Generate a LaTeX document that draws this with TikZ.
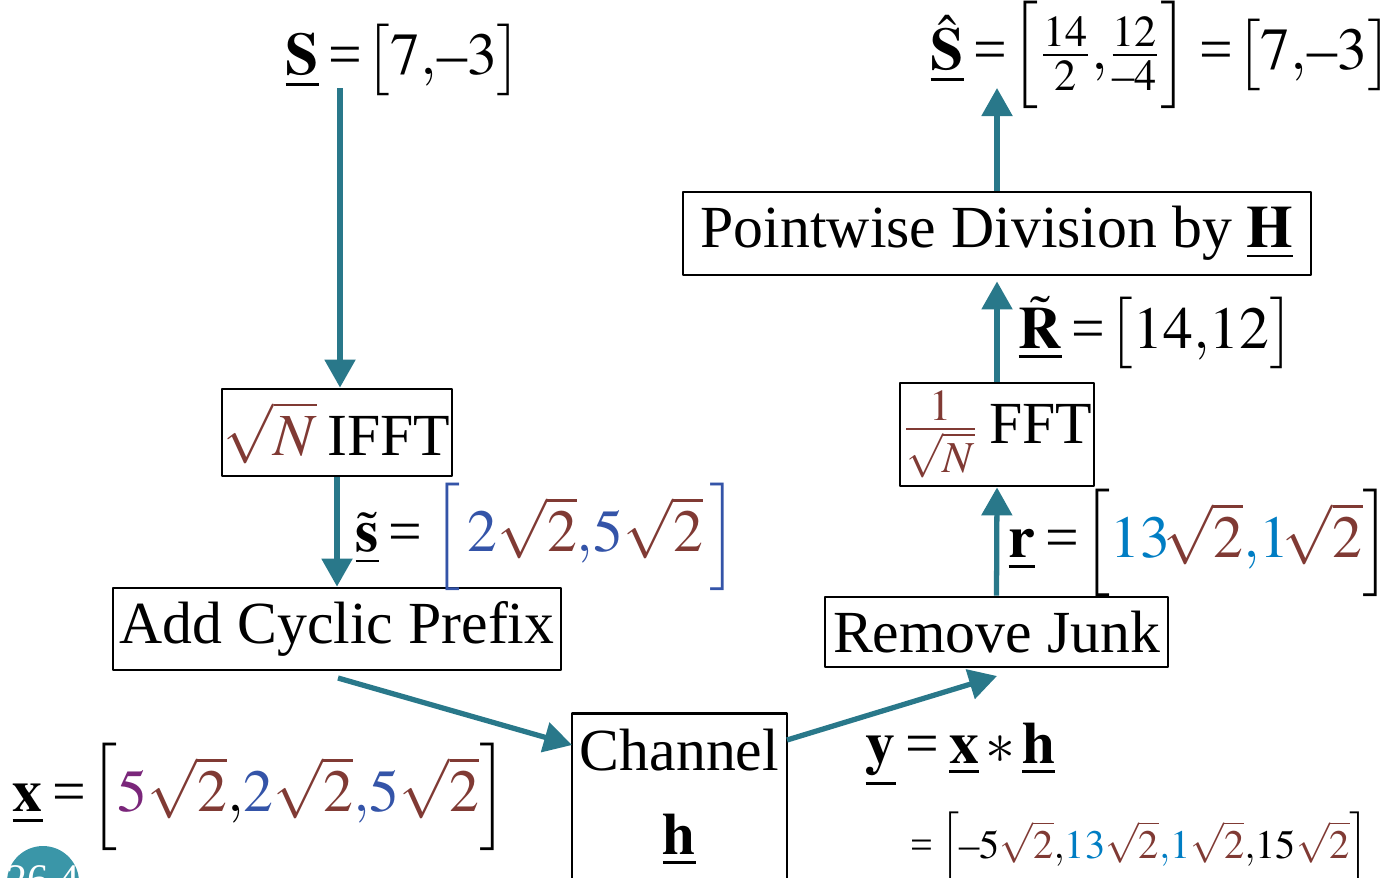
\documentclass[tikz,border=0pt]{standalone}
\usepackage{amsmath,amssymb}
\usepackage{mathptmx}
\usepackage{fontspec}
\setmainfont{Liberation Serif}
\usetikzlibrary{calc,arrows.meta}

\definecolor{flowteal}{RGB}{41,120,138}
\definecolor{rootred}{RGB}{128,58,52}
\definecolor{valblue}{RGB}{52,84,168}
\definecolor{valpurple}{RGB}{122,38,122}
\definecolor{valcyan}{RGB}{0,125,195}
\definecolor{badgeteal}{RGB}{58,150,168}

\newcommand{\rtwo}{\textcolor{rootred}{\sqrt{2}}}
\newcommand{\vb}[1]{\underline{\mathbf{#1}}}
\newcommand{\eq}{\mathrel{\text{=}}}
\newcommand{\mn}{\text{–}}
\thickmuskip=3mu plus 2mu
\medmuskip=2mu plus 1mu

\begin{document}
\begin{tikzpicture}[line join=round, font=\fontsize{17}{21}\selectfont,
	block/.style={draw, line width=0.8pt, inner sep=0pt},
	vec/.style={inner sep=0pt, anchor=west},
	flow/.style={-{Triangle[width=3mm,length=2.8mm]}, line width=1.5pt, flowteal}]
	% Khung của hình
	\useasboundingbox (0,0) rectangle (13.95,-8.77);
	% Các khối của bên phát
	\node[block, minimum width=2.30cm, minimum height=0.87cm] (ifft) at (3.37,-4.325)
	{$\textcolor{rootred}{\sqrt{N}}$\,IFFT};
	\node[block, minimum width=4.48cm, minimum height=0.82cm] (prefix) at (3.37,-6.29)
	{Add Cyclic Prefix};
	% Kênh truyền (khung kéo dài ra ngoài mép dưới)
	\node[block, minimum width=2.15cm, minimum height=2.6cm, anchor=north] (chan) at (6.795,-7.12) {};
	\node (chanT) at (6.795,-7.50) {Channel};
	\node (chanH) at (6.795,-8.40) {$\vb{h}$};
	% Các khối của bên thu
	\node[block, minimum width=3.43cm, minimum height=0.70cm] (junk) at (9.965,-6.32)
	{Remove Junk};
	\node[block, minimum width=1.94cm, minimum height=1.03cm] (fft) at (9.97,-4.345)
	{$\textcolor{rootred}{\frac{1}{\sqrt{N}}}$\,FFT};
	\node[block, minimum width=6.28cm, minimum height=0.83cm] (div) at (9.97,-2.335)
	{Pointwise Division by $\vb{H}$};
	% Nhãn các vectơ (neo ở mép trái)
	\node[vec] (sTop) at (2.85,-0.60) {$\vb{S}\eq\!\big[7{,}\mn3\big]$};
	\node[vec] (sTil) at (3.55,-5.37) {$\tilde{\vb{s}}\eq\textcolor{valblue}{\Big[}\,\textcolor{valblue}{2}\rtwo\textcolor{valblue}{{,}5}\rtwo\,\textcolor{valblue}{\Big]}$};
	\node[vec] (xVec) at (0.12,-7.97) {$\vb{x}\eq\!\Big[\textcolor{valpurple}{5}\rtwo{,}\textcolor{valblue}{2}\rtwo\textcolor{valblue}{{,}5}\rtwo\Big]$};
	\node[vec] (yVec) at (8.65,-7.55) {$\vb{y}\eq\vb{x}*\vb{h}$};
	\node[vec, font=\fontsize{11.5}{14}\selectfont] (yVal) at (9.10,-8.48)
	{$\eq\Big[\mn5\rtwo{,}\textcolor{valcyan}{13}\rtwo\textcolor{valcyan}{{,}1}\rtwo{,}15\rtwo\Big]$};
	\node[vec] (rVec) at (10.08,-5.43) {$\vb{r}\eq\!\Big[\textcolor{valcyan}{13}\!\rtwo\textcolor{valcyan}{{,}1}\!\rtwo\Big]$};
	\node[vec] (rTil) at (10.18,-3.33) {$\tilde{\vb{R}}\eq\!\big[14{,}12\big]$};
	\node[vec] (sHat) at (9.30,-0.55) {$\hat{\vb{S}}\eq\!\Big[\frac{14}{2}{,}\frac{12}{\mn4}\Big]\eq\!\big[7{,}\mn3\big]$};
	% Điểm đầu, điểm cuối tự do của các mũi tên
	\coordinate (sIn) at (3.40,-0.88);
	\coordinate (pOut) at (3.38,-6.78);
	\coordinate (cIn) at (5.72,-7.45);
	\coordinate (cOut) at (7.87,-7.40);
	\coordinate (jIn) at (9.97,-6.76);
	\coordinate (hOut) at (9.97,-0.88);
	% Các mũi tên
	\draw[flow] (sIn) -- (sIn|-ifft.north);
	\draw[flow] (ifft.south) -- (prefix.north);
	\draw[flow] (pOut) -- (cIn);
	\draw[flow] (cOut) -- (jIn);
	\draw[flow] (junk.north) -- (fft.south);
	\draw[flow] (fft.north) -- ([yshift=-0.5mm]div.south);
	\draw[flow] (div.north) -- (hOut);
	% Huy hiệu ở góc dưới bên trái
	\fill[badgeteal] (0.43,-8.82) circle (0.36);
	\node[white, font=\fontsize{12}{14}\selectfont] (badge) at (0.43,-8.80) {26.4};
\end{tikzpicture}
\end{document}
